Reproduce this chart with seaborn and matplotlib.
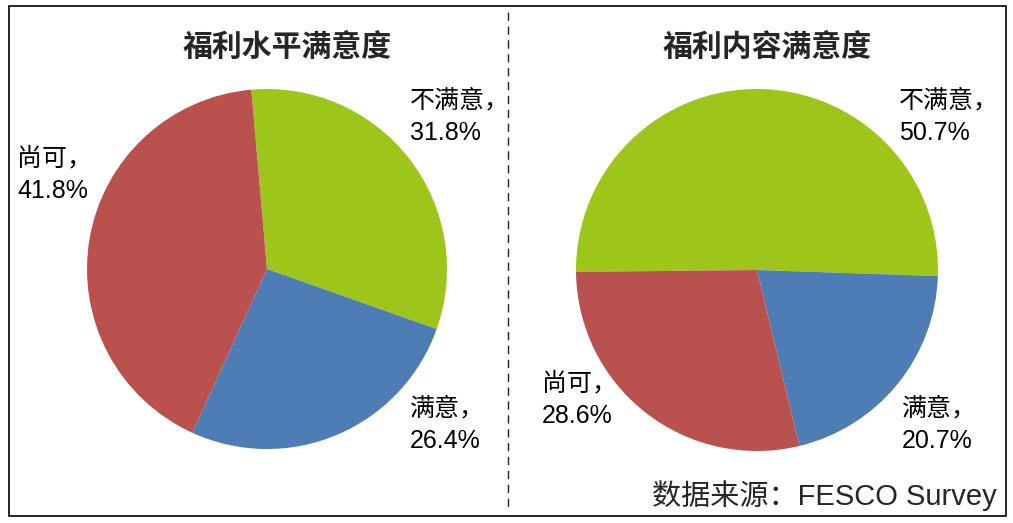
import matplotlib
matplotlib.use("Agg")
import matplotlib.pyplot as plt
from matplotlib.patches import Rectangle
from matplotlib.lines import Line2D
import seaborn as sns

sns.set_theme(style="white")
FONT = ["Liberation Sans", "Noto Sans CJK SC", "DejaVu Sans"]
plt.rcParams["font.family"] = FONT

# Survey results
categories = ["不满意", "满意", "尚可"]
level_values = [31.8, 26.4, 41.8]      # 福利水平满意度
content_values = [50.7, 20.7, 28.6]    # 福利内容满意度
titles = ["福利水平满意度", "福利内容满意度"]
source_note = "数据来源：FESCO Survey"

colors = ["#9DC51A", "#4E7DB5", "#B9514E"]

W, H = 1013, 523
fig = plt.figure(figsize=(W / 100, H / 100), dpi=100)
fig.patch.set_facecolor("white")


def px_axes(cx, cy, r):
    return fig.add_axes([(cx - r) / W, (H - cy - r) / H, 2 * r / W, 2 * r / H])


def draw_pie(ax, values, start, label_pos, title, title_xy):
    ax.pie(values, colors=colors, startangle=start, counterclock=False,
           radius=1.0, wedgeprops=dict(linewidth=0))
    ax.set_xlim(-1, 1)
    ax.set_ylim(-1, 1)
    ax.set_aspect("equal")
    ax.axis("off")
    for cat, val, (x, y) in zip(categories, values, label_pos):
        fig.text(x / W, 1 - y / H, f"{cat}，\n{val:.1f}%", ha="left", va="top",
                 fontsize=18, linespacing=1.45, color="black", family=FONT)
    fig.text(title_xy[0] / W, 1 - title_xy[1] / H, title, ha="center",
             va="center", fontsize=21.5, fontweight="bold", family=FONT)


ax1 = px_axes(267, 269, 180)
draw_pie(ax1, level_values, 95,
         [(410, 88), (410, 396), (17, 146)],
         titles[0], (287, 47))

ax2 = px_axes(757, 270, 181)
draw_pie(ax2, content_values, 180.6,
         [(899, 88), (902, 396), (542, 371)],
         titles[1], (767, 47))

fig.text(997 / W, 1 - 496 / H, source_note, ha="right", va="center",
         fontsize=21, family=FONT)

# Outer frame and divider
fig.add_artist(Rectangle((9 / W, 1 - 516 / H), 997 / W, 510 / H,
                         transform=fig.transFigure, fill=False,
                         edgecolor="black", linewidth=1.2))
fig.add_artist(Line2D([508 / W, 508 / W], [1 - 12 / H, 1 - 512 / H],
                      transform=fig.transFigure, color="#222222",
                      linewidth=1, linestyle=(0, (6, 4))))

fig.savefig("out.png", dpi=100, facecolor="white")
